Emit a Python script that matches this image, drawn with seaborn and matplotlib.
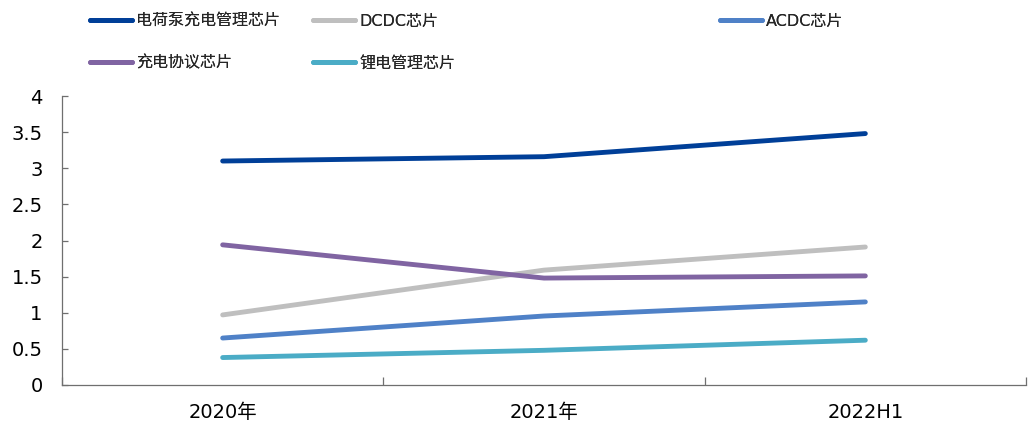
import matplotlib
matplotlib.use("Agg")
import matplotlib.pyplot as plt
import pandas as pd
import seaborn as sns
from matplotlib.lines import Line2D
from matplotlib.ticker import FixedLocator, FuncFormatter

# Chart data
periods = ["2020年", "2021年", "2022H1"]
series_names = ["电荷泵充电管理芯片", "DCDC芯片", "ACDC芯片", "充电协议芯片", "锂电管理芯片"]
charge_pump = [3.10, 3.16, 3.48]
dcdc = [0.97, 1.59, 1.91]
acdc = [0.65, 0.955, 1.15]
protocol = [1.94, 1.48, 1.51]
li_battery = [0.38, 0.48, 0.62]
y_ticks = [0, 0.5, 1, 1.5, 2, 2.5, 3, 3.5, 4]

colors = ["#003f98", "#bfbfbf", "#4f81c7", "#8064a2", "#4bacc6"]
palette = dict(zip(series_names, colors))

values = [charge_pump, dcdc, acdc, protocol, li_battery]
df = pd.DataFrame(
    [(p, v, name) for name, vals in zip(series_names, values) for p, v in zip(periods, vals)],
    columns=["period", "value", "series"],
)

sns.set_theme(style="white")
plt.rcParams["font.family"] = ["DejaVu Sans", "Noto Sans CJK SC"]

fig = plt.figure(figsize=(10.33, 4.28), dpi=100)
ax = fig.add_axes([62 / 1033, 1 - 385 / 428, (1026 - 62) / 1033, (385 - 96) / 428])

sns.lineplot(
    data=df, x="period", y="value", hue="series", hue_order=series_names,
    palette=palette, linewidth=3.5, sort=False, legend=False, ax=ax,
    solid_capstyle="round",
)

ax.set_xlim(-0.5, len(periods) - 0.5)
ax.set_ylim(0, 4)
ax.set_xlabel("")
ax.set_ylabel("")

# Axes styling: left and bottom spines only, inward ticks
for side in ["top", "right"]:
    ax.spines[side].set_visible(False)
for side in ["left", "bottom"]:
    ax.spines[side].set_color("#6f6f6f")
    ax.spines[side].set_linewidth(0.9)

ax.yaxis.set_major_locator(FixedLocator(y_ticks))
ax.yaxis.set_major_formatter(FuncFormatter(lambda v, _: f"{v:g}"))
ax.tick_params(axis="y", direction="in", length=4.5, width=0.9, color="#6f6f6f",
               labelsize=14, pad=14, labelcolor="#000000", left=True)

ax.set_xticks(range(len(periods)))
ax.set_xticklabels(periods)
ax.xaxis.set_minor_locator(FixedLocator([i - 0.5 for i in range(len(periods) + 1)]))
ax.tick_params(axis="x", which="major", length=0, labelsize=14, pad=13, labelcolor="#000000")
ax.tick_params(axis="x", which="minor", direction="in", length=5.5, width=0.9,
               color="#6f6f6f", bottom=True)

# Legend laid out in three columns at the top
def handle(c):
    return Line2D([0], [0], color=c, linewidth=3.5, solid_capstyle="round")

legend_cols = [
    ([0, 3], 90),
    ([1, 4], 313),
    ([2], 720),
]
for idxs, x_px in legend_cols:
    leg = fig.legend(
        [handle(colors[i]) for i in idxs], [series_names[i] for i in idxs],
        loc="upper left", bbox_to_anchor=(x_px / 1033, 1 - 14 / 428),
        frameon=False, fontsize=11.5, handlelength=2.6, handletextpad=0.3,
        borderpad=0, borderaxespad=0, labelspacing=1.65,
    )
    fig.add_artist(leg)

fig.savefig("out.png", dpi=100)
